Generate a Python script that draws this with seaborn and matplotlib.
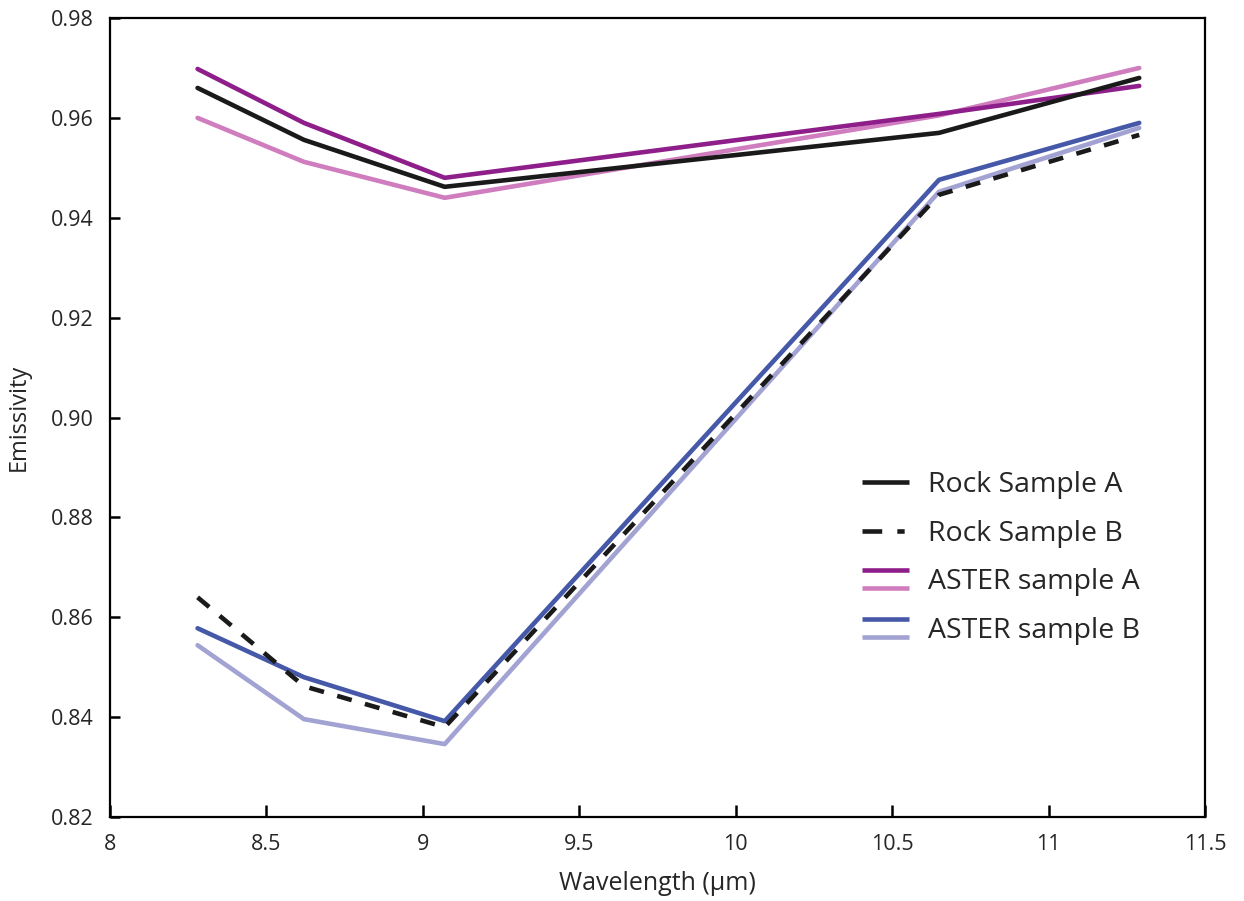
import matplotlib
matplotlib.use("Agg")
import matplotlib.pyplot as plt
import seaborn as sns
import pandas as pd
from matplotlib.lines import Line2D
from matplotlib.legend_handler import HandlerBase

wavelength = [8.28, 8.62, 9.07, 10.65, 11.29]
rock_a = [0.966, 0.9556, 0.9462, 0.957, 0.968]
rock_b = [0.864, 0.8462, 0.838, 0.9446, 0.9566]
aster_a_dark = [0.9698, 0.959, 0.948, 0.9608, 0.9664]
aster_a_light = [0.960, 0.9512, 0.944, 0.9605, 0.970]
aster_b_dark = [0.8578, 0.848, 0.8392, 0.9476, 0.959]
aster_b_light = [0.8544, 0.8396, 0.8346, 0.9452, 0.958]

x_ticks = [8, 8.5, 9, 9.5, 10, 10.5, 11, 11.5]
x_tick_labels = ["8", "8.5", "9", "9.5", "10", "10.5", "11", "11.5"]
y_ticks = [0.82, 0.84, 0.86, 0.88, 0.90, 0.92, 0.94, 0.96, 0.98]
y_tick_labels = ["0.82", "0.84", "0.86", "0.88", "0.90", "0.92", "0.94", "0.96", "0.98"]

sns.set_theme(style="ticks")
plt.rcParams['font.family'] = ['Open Sans', 'DejaVu Sans']

fig = plt.figure(figsize=(12.44, 9.01), dpi=100)
ax = fig.add_axes([0.0884, 0.0932, 0.8802, 0.8868])

LW = 3.3
c_dark_purple = "#8E1F8A"
c_light_purple = "#D07DBF"
c_dark_blue = "#4658A8"
c_light_blue = "#A2A2D3"

series = [
    (aster_a_light, c_light_purple),
    (aster_a_dark, c_dark_purple),
    (rock_a, "#1a1a1a"),
    (aster_b_light, c_light_blue),
    (aster_b_dark, c_dark_blue),
]
for vals, col in series:
    df = pd.DataFrame({"x": wavelength, "y": vals})
    sns.lineplot(data=df, x="x", y="y", ax=ax, color=col, lw=LW)

dfb = pd.DataFrame({"x": wavelength, "y": rock_b})
sns.lineplot(data=dfb, x="x", y="y", ax=ax, color="#1a1a1a", lw=LW)
ax.lines[-1].set_dashes((3.3, 3.0))

ax.set_xlim(8, 11.5)
ax.set_ylim(0.82, 0.98)
ax.set_xticks(x_ticks, labels=x_tick_labels)
ax.set_yticks(y_ticks, labels=y_tick_labels)
for s in ax.spines.values():
    s.set_color("black")
    s.set_linewidth(1.6)
ax.set_xlabel("Wavelength (µm)", fontsize=18, labelpad=12)
ax.set_ylabel("Emissivity", fontsize=17, labelpad=14)


class Single:
    def __init__(self, color, dashes=None):
        self.color = color
        self.dashes = dashes


class Double:
    def __init__(self, c1, c2):
        self.c1 = c1
        self.c2 = c2


class SingleHandler(HandlerBase):
    def create_artists(self, legend, h, xd, yd, w, hgt, fs, trans):
        ln = Line2D([-xd, -xd + w], [hgt / 2 - yd] * 2, color=h.color, lw=LW,
                    solid_capstyle="butt", dash_capstyle="butt")
        if h.dashes:
            ln.set_dashes(h.dashes)
        ln.set_transform(trans)
        return [ln]


class DoubleHandler(HandlerBase):
    def create_artists(self, legend, h, xd, yd, w, hgt, fs, trans):
        l1 = Line2D([-xd, -xd + w], [hgt * 0.95 - yd] * 2, color=h.c1, lw=LW,
                    solid_capstyle="butt")
        l2 = Line2D([-xd, -xd + w], [hgt * 0.05 - yd] * 2, color=h.c2, lw=LW,
                    solid_capstyle="butt")
        l1.set_transform(trans)
        l2.set_transform(trans)
        return [l1, l2]


handles = [Single("#1a1a1a"), Single("#1a1a1a", (4.3, 3.3, 1.6, 20)),
           Double(c_dark_purple, c_light_purple), Double(c_dark_blue, c_light_blue)]
labels = ["Rock Sample A", "Rock Sample B", "ASTER sample A", "ASTER sample B"]
leg = ax.legend(handles, labels,
                handler_map={Single: SingleHandler(), Double: DoubleHandler()},
                frameon=False, loc="upper left", bbox_to_anchor=(0.687, 0.433),
                borderaxespad=0, borderpad=0,
                handlelength=1.65, handletextpad=0.65, labelspacing=0.72,
                prop={"family": ["Open Sans", "DejaVu Sans"], "size": 20.5})

ax.tick_params(axis="x", direction="in", length=9, width=1.8, color="black",
               labelsize=15.5, pad=12)
ax.tick_params(axis="y", direction="in", length=7, width=1.8, color="black",
               labelsize=15.5, pad=12)
ax.xaxis.get_major_ticks()[6].tick1line.set_color(c_dark_purple)

fig.savefig("out.png", dpi=100)
